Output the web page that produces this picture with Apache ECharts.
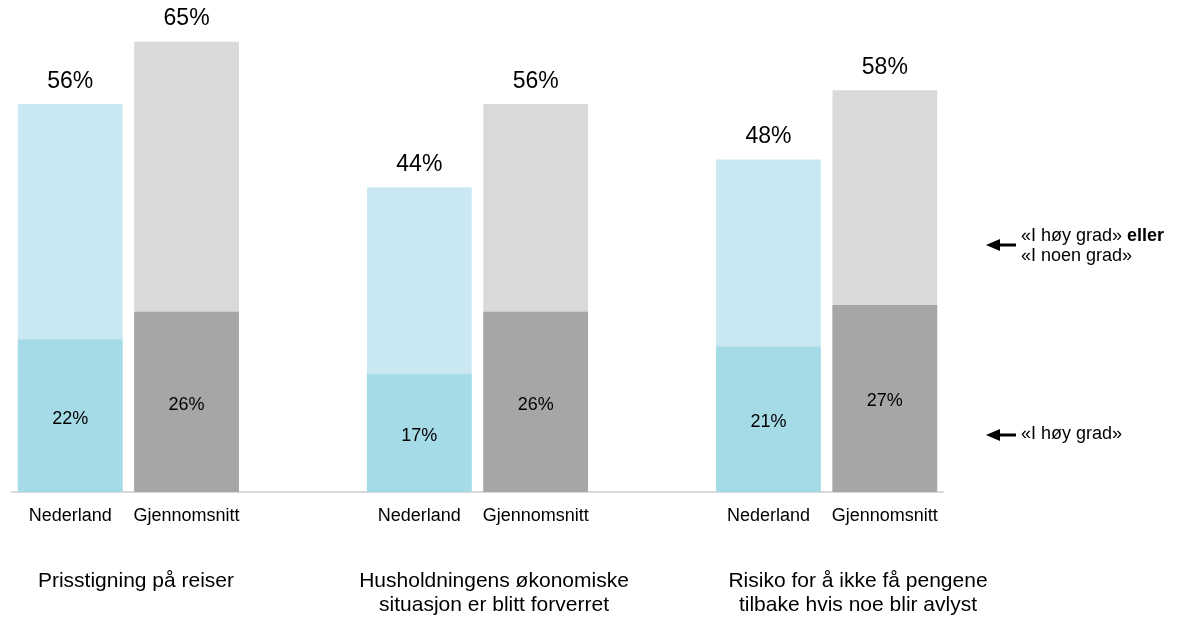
<!DOCTYPE html>
<html>
<head>
<meta charset="utf-8">
<title>Chart</title>
<script src="https://cdn.jsdelivr.net/npm/echarts@6/dist/echarts.min.js"></script>
<style>
  html, body { margin: 0; padding: 0; background: #fff; }
  #chart { width: 1186px; height: 619px; }
</style>
</head>
<body>
<div id="chart"></div>
<script>
// bar labels (blank slots keep space between the three topics)
var barLabels = ["Nederland", "Gjennomsnitt", "", "Nederland", "Gjennomsnitt", "", "Nederland", "Gjennomsnitt"];
var topics = ["Prisstigning på reiser", "Husholdningens økonomiske\nsituasjon er blitt forverret", "Risiko for å ikke få pengene\ntilbake hvis noe blir avlyst"];
// «I høy grad» eller «I noen grad»
var nederlandTotal = [56, 44, 48];
var snittTotal = [65, 56, 58];
// «I høy grad»
var nederlandHigh = [22, 17, 21];
var snittHigh = [26, 26, 27];

var FONT = "Liberation Sans, Arial, sans-serif";

function spread(ned, avg, colNed, colAvg) {
  var out = [];
  for (var i = 0; i < 3; i++) {
    out.push({ value: ned[i], itemStyle: { color: colNed } });
    out.push({ value: avg[i], itemStyle: { color: colAvg } });
    if (i < 2) out.push("-");
  }
  return out;
}

function topicText(x, txt) {
  return {
    type: "text", x: x, y: 569,
    style: { text: txt, font: "21px " + FONT, fill: "#000", align: "center", verticalAlign: "top", lineHeight: 24 }
  };
}

var chart = echarts.init(document.getElementById("chart"));
chart.setOption({
  animation: false,
  grid: { left: 12, right: 243, top: 7, bottom: 127, containLabel: false },
  xAxis: {
    type: "category",
    data: barLabels,
    axisLine: { lineStyle: { color: "#d9d9d9", width: 2 } },
    axisTick: { show: false },
    axisLabel: { color: "#000", fontSize: 18, fontFamily: FONT, margin: 15, interval: 0 }
  },
  yAxis: {
    type: "value",
    min: 0,
    max: 70,
    show: false,
    splitLine: { show: false }
  },
  series: [
    {
      name: "total",
      type: "bar",
      barCategoryGap: "10%",
      barGap: "-100%",
      data: spread(nederlandTotal, snittTotal, "#c9e8f1", "#d9d9d9"),
      label: {
        show: true,
        position: "top",
        distance: 11,
        color: "#000",
        fontSize: 23,
        fontFamily: FONT,
        formatter: "{c}%"
      }
    },
    {
      name: "high",
      type: "bar",
      barCategoryGap: "10%",
      barGap: "-100%",
      data: spread(nederlandHigh, snittHigh, "#a5dbe7", "#a6a6a6"),
      label: {
        show: true,
        position: "inside",
        offset: [0, 3],
        color: "#000",
        fontSize: 18,
        fontFamily: FONT,
        formatter: "{c}%"
      }
    }
  ],
  graphic: [
    topicText(136, topics[0]),
    topicText(494, topics[1]),
    topicText(858, topics[2]),
    // legend arrows
    { type: "line", shape: { x1: 999, y1: 245, x2: 1016, y2: 245 }, style: { stroke: "#000", lineWidth: 3 } },
    { type: "polygon", shape: { points: [[986, 245], [1000, 239], [1000, 251]] }, style: { fill: "#000" } },
    { type: "line", shape: { x1: 999, y1: 435, x2: 1016, y2: 435 }, style: { stroke: "#000", lineWidth: 3 } },
    { type: "polygon", shape: { points: [[986, 435], [1000, 429], [1000, 441]] }, style: { fill: "#000" } },
    {
      type: "text", x: 1021, y: 226,
      style: {
        text: "{n|«I høy grad» }{b|eller}\n{n|«I noen grad»}",
        fill: "#000",
        rich: {
          n: { fontSize: 18, fontFamily: FONT, lineHeight: 20 },
          b: { fontSize: 18, fontFamily: FONT, fontWeight: "bold", lineHeight: 20 }
        }
      }
    },
    { type: "text", x: 1021, y: 425, style: { text: "«I høy grad»", font: "18px " + FONT, fill: "#000" } }
  ]
});
window.onresize = function () {
  chart.resize();
};
</script>
</body>
</html>
